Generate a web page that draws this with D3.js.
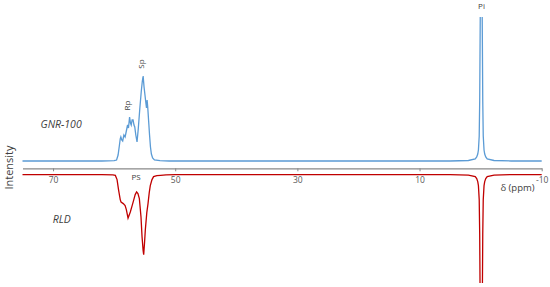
<!DOCTYPE html>
<html>
<head>
<meta charset="utf-8">
<script src="https://cdn.jsdelivr.net/npm/d3@7"></script>
<style>
  body { margin: 0; background: #fff; }
  text { font-family: "Open Sans", sans-serif; }
</style>
</head>
<body>
<div id="chart"></div>
<script>
// chemical shift (ppm) and intensity
const gnrPpm = [75, 62, 60, 59.6, 59.35, 59.15, 59.0, 58.9, 58.75, 58.6, 58.4, 58.2, 58.0, 57.8, 57.65,
  57.47, 57.32, 57.2, 57.05, 56.9, 56.75, 56.62, 56.45, 56.25, 56.05, 55.8, 55.55, 55.38, 55.25, 55.1,
  54.95, 54.82, 54.7, 54.6, 54.5, 54.35, 54.2, 54.05, 53.9, 53.7, 53.4, 52.5, 51,
  5, 2, 0.88, 0.64, 0.47, 0.36, 0.23, 0.15, 0.06, 0.01, -0.1, -0.21, -0.26, -0.35, -0.43, -0.56,
  -0.67, -0.84, -1.08, -2.2, -5, -10];
const gnrInt = [0, 0, 0.3, 1, 6, 15, 22, 24, 21, 20, 26, 24, 30, 36, 33,
  44, 38, 36, 41, 41, 36, 34, 26, 19, 32, 52, 70, 80, 85, 74,
  66, 59, 53, 61, 54, 40, 26, 14, 7, 3, 1, 0.3, 0,
  0, 0.5, 2, 4, 7, 11, 25, 60, 144, 300, 1000, 300, 144, 60, 25, 11,
  7, 4, 2, 0.5, 0, 0];

const rldPpm = [75, 62, 60.2, 59.8, 59.52, 59.26, 59.0, 58.87, 58.5, 58.2, 58.0, 57.72, 57.5, 57.35,
  57.05, 56.81, 56.55, 56.32, 56.1, 55.87, 55.6, 55.43, 55.25, 55.16, 55.02, 54.89, 54.65, 54.45,
  54.25, 54.08, 53.8, 53.54, 53, 52.4, 51.5, 50,
  5, 2, 0.88, 0.64, 0.47, 0.36, 0.23, 0.15, 0.06, 0.01, -0.1, -0.21, -0.26, -0.35, -0.43, -0.56,
  -0.67, -0.84, -1.08, -2.2, -5, -10];
const rldInt = [0, 0, 0.3, 0.8, 5, 15.7, 25, 27.4, 29, 31, 35, 43.5, 40, 37.4,
  31, 25.7, 20, 17.4, 19, 24, 42.4, 62, 76, 80, 68, 55, 38, 29,
  18, 11, 5, 2, 1, 0.7, 0.3, 0,
  0, 0.5, 2, 4, 7, 11, 25, 60, 144, 300, 1000, 300, 144, 60, 25, 11,
  7, 4, 2, 0.5, 0, 0];

const tickValues = [70, 50, 30, 10, -10];

const width = 550;
const height = 287;

const svg = d3.select("#chart")
  .append("svg")
  .attr("width", width)
  .attr("height", height);

const x = d3.scaleLinear().domain([75, -10]).range([22.5, 541.7]);
// blue spectrum points up, red one is drawn mirrored below the axis
const yTop = d3.scaleLinear().domain([0, 100]).range([161, 61]);
const yBottom = d3.scaleLinear().domain([0, 100]).range([174.6, 274.6]);

svg.append("defs").append("clipPath")
  .attr("id", "plot-clip")
  .append("rect")
  .attr("x", 0)
  .attr("y", 17)
  .attr("width", width)
  .attr("height", 266);

const gnr = gnrPpm.map((p, i) => [p, gnrInt[i]]);
const rld = rldPpm.map((p, i) => [p, rldInt[i]]);

const lines = svg.append("g").attr("clip-path", "url(#plot-clip)");

lines.append("path")
  .datum(gnr)
  .attr("fill", "none")
  .attr("stroke", "#5b9bd5")
  .attr("stroke-width", 1.3)
  .attr("d", d3.line().x(d => x(d[0])).y(d => yTop(d[1])));

lines.append("path")
  .datum(rld)
  .attr("fill", "none")
  .attr("stroke", "#c00000")
  .attr("stroke-width", 1.3)
  .attr("d", d3.line().x(d => x(d[0])).y(d => yBottom(d[1])));

const axis = svg.append("g")
  .attr("transform", "translate(0,168.3)")
  .call(d3.axisBottom(x)
    .tickValues(tickValues)
    .tickFormat(d => String(d))
    .tickSize(3)
    .tickSizeOuter(0)
    .tickPadding(5.5));

axis.select(".domain").attr("stroke", "#898989").attr("stroke-width", 1.3);
axis.selectAll(".tick line").attr("stroke", "#898989").attr("stroke-width", 1);
axis.selectAll(".tick text")
  .attr("fill", "#595959")
  .style("font-family", "Open Sans")
  .style("font-size", "8.5px");

svg.append("text")
  .attr("x", 517.5)
  .attr("y", 191)
  .attr("text-anchor", "middle")
  .attr("fill", "#404040")
  .style("font-size", "9.5px")
  .text("δ (ppm)");

svg.append("text")
  .attr("transform", "translate(12.5,167.5) rotate(-90)")
  .attr("text-anchor", "middle")
  .attr("fill", "#404040")
  .style("font-size", "11px")
  .text("Intensity");

svg.append("text")
  .attr("x", 40.5)
  .attr("y", 128)
  .attr("fill", "#404040")
  .style("font-size", "10.5px")
  .style("font-style", "italic")
  .text("GNR-100");

svg.append("text")
  .attr("x", 52.7)
  .attr("y", 222.7)
  .attr("fill", "#404040")
  .style("font-size", "10.5px")
  .style("font-style", "italic")
  .text("RLD");

// peak labels
const small = [
  { t: "Pi", tr: "translate(481.5,8.5)" },
  { t: "Sp", tr: "translate(144.4,64) rotate(-90)" },
  { t: "Rp", tr: "translate(129.5,105.5) rotate(-90)" },
  { t: "PS", tr: "translate(136,180.3)" }
];
svg.selectAll("text.peak")
  .data(small)
  .enter()
  .append("text")
  .attr("class", "peak")
  .attr("transform", d => d.tr)
  .attr("text-anchor", "middle")
  .attr("fill", "#404040")
  .style("font-size", "8px")
  .text(d => d.t);
</script>
</body>
</html>
